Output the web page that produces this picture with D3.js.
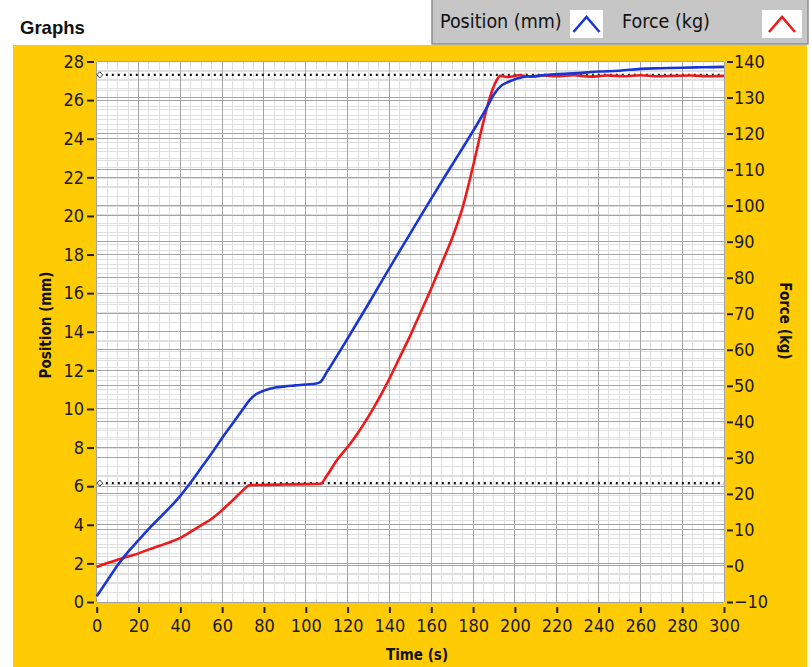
<!DOCTYPE html>
<html><head><meta charset="utf-8">
<script src="https://cdn.jsdelivr.net/npm/d3@7"></script>
<style>body{margin:0;background:#fff;overflow:hidden}</style>
</head><body>
<script>
// ---- data ----
const timeTicks = [0,20,40,60,80,100,120,140,160,180,200,220,240,260,280,300];
const positionTicks = [0,2,4,6,8,10,12,14,16,18,20,22,24,26,28];
const forceTicks = [-10,0,10,20,30,40,50,60,70,80,90,100,110,120,130,140];

const positionTime =   [0,  5,  10, 15, 20, 25, 30, 35, 40,  45, 50,  55, 60, 65,  70,  73,   76,  80,   86,   90,   95,  100,  105, 107,  110, 120,  130,  140, 150,  160, 170,  180, 186, 190, 193, 197,  204, 210,  220, 230, 240,  250, 260, 270,  280,  290, 300];
const positionValues = [0.3,1.1,1.9,2.6,3.2,3.8,4.35,4.9,5.5,6.2,6.95,7.7,8.5,9.25,10.0,10.45,10.75,10.95,11.12,11.17,11.22,11.27,11.32,11.4,11.9,13.65,15.45,17.3,19.1,20.9,22.65,24.4,25.5,26.3,26.7,26.95,27.2,27.25,27.35,27.4,27.48,27.52,27.62,27.65,27.68,27.7,27.72];

const forceTime =   [0,   5,  10, 15, 20, 25, 30, 35, 40, 45, 50,  55,  60,  65,  70,  73,  80,  90,  100, 107, 110, 115, 120, 125, 130, 135, 140, 145, 150, 155, 160, 165, 170, 175,  180, 184, 188, 191,  193,  197,  202,  208,  214,  220,  228,  236,  244,  252,  260,  268,  276,  284,  292,  300];
const forceValues = [-0.3,0.8,1.7,2.6,3.5,4.6,5.6,6.6,7.8,9.5,11.3,13.1,15.5,18.2,21.0,22.4,22.5,22.6,22.7,22.8,25.0,29.5,33.0,37.0,41.5,46.5,52.0,58.0,64.0,70.5,77.0,84.0,91.0,99.5,111.0,121.0,130.0,134.5,136.0,135.7,136.2,135.8,136.1,135.9,136.2,135.8,136.1,135.9,136.2,135.9,136.0,136.1,135.9,136.0];

const limitForces = [136.3, 23.0];

const legendLabels = ["Position (mm)", "Force (kg)"];
const seriesColors = ["#1a35d6", "#f01818"];

// ---- layout ----
const W = 812, H = 667;
const narrow = "'Liberation Sans Narrow','DejaVu Sans Condensed',sans-serif";
const svg = d3.select("body").append("svg").attr("width", W).attr("height", H)
  .style("font-family", narrow);

const x = d3.scaleLinear().domain([0,300]).range([96.7,724]);
const yPos = d3.scaleLinear().domain([0,28]).range([602,61.5]);
const yF = d3.scaleLinear().domain([-10,140]).range([602,61.5]);

// yellow panel
svg.append("rect").attr("x",13).attr("y",45).attr("width",794).attr("height",630).attr("fill","#ffcb05");

// title
svg.append("text").attr("x",20).attr("y",34).text("Graphs")
  .attr("font-family","'Liberation Sans',Arial,sans-serif").attr("font-weight","bold").attr("font-size",18.5).attr("fill","#111");

// legend box
const lg = svg.append("g");
lg.append("rect").attr("x",432).attr("y",-2).attr("width",376).attr("height",46).attr("fill","#c6c6c6").attr("stroke","#8e8e8e").attr("stroke-width",1.5);
const legendX = [[440,570],[622,762]];
legendLabels.forEach((l,i)=>{
  lg.append("text").attr("x",legendX[i][0]).attr("y",28).text(l).attr("font-size",19.5).attr("fill","#111");
  const bx = legendX[i][1];
  lg.append("rect").attr("x",bx).attr("y",10).attr("width",i===0?33:40).attr("height",28).attr("fill","#fff");
  const cx = bx + (i===0?16.5:20);
  lg.append("path").attr("d",`M${cx-13},${32}L${cx},${17}L${cx+13},${32}`).attr("fill","none").attr("stroke",seriesColors[i]).attr("stroke-width",2.5);
});

// plot background
svg.append("rect").attr("x",x(0)).attr("y",yPos(28)).attr("width",x(300)-x(0)).attr("height",yPos(0)-yPos(28)).attr("fill","#fff");

const grid = svg.append("g").attr("shape-rendering","crispEdges");
const minorCol = "#dfdfdf", majorCol = "#a4a4a4";
d3.range(0,301,5).filter(t=>!timeTicks.includes(t)).forEach(t=>{
  grid.append("line").attr("x1",x(t)).attr("x2",x(t)).attr("y1",yPos(28)).attr("y2",yPos(0)).attr("stroke",minorCol);
});
d3.range(0,28.01,0.5).filter(v=>v%2!==0).forEach(v=>{
  grid.append("line").attr("x1",x(0)).attr("x2",x(300)).attr("y1",yPos(v)).attr("y2",yPos(v)).attr("stroke",minorCol);
});
d3.range(-10,140.01,2.5).filter(v=>v%10!==0).forEach(v=>{
  grid.append("line").attr("x1",x(0)).attr("x2",x(300)).attr("y1",yF(v)).attr("y2",yF(v)).attr("stroke",minorCol);
});
timeTicks.forEach(t=>grid.append("line").attr("x1",x(t)).attr("x2",x(t)).attr("y1",yPos(28)).attr("y2",yPos(0)).attr("stroke",majorCol));
positionTicks.forEach(v=>grid.append("line").attr("x1",x(0)).attr("x2",x(300)).attr("y1",yPos(v)).attr("y2",yPos(v)).attr("stroke",majorCol));
forceTicks.forEach(v=>grid.append("line").attr("x1",x(0)).attr("x2",x(300)).attr("y1",yF(v)).attr("y2",yF(v)).attr("stroke",majorCol));

// limit lines
limitForces.forEach(f=>{
  svg.append("line").attr("x1",x(1.5)).attr("x2",x(300)).attr("y1",yF(f)).attr("y2",yF(f))
    .attr("stroke","#111").attr("stroke-width",2.2).attr("stroke-dasharray","2,4");
  const cx = x(1.5), cy = yF(f);
  svg.append("path").attr("d",`M${cx-3},${cy}L${cx},${cy-3}L${cx+3},${cy}L${cx},${cy+3}Z`).attr("fill","#fff").attr("stroke","#333").attr("stroke-width",1);
});

// series
const posLine = d3.line().x((d,i)=>x(positionTime[i])).y(d=>yPos(d)).curve(d3.curveMonotoneX);
const fLine = d3.line().x((d,i)=>x(forceTime[i])).y(d=>yF(d)).curve(d3.curveMonotoneX);
svg.append("path").attr("d",fLine(forceValues)).attr("fill","none").attr("stroke",seriesColors[1]).attr("stroke-width",2.6);
svg.append("path").attr("d",posLine(positionValues)).attr("fill","none").attr("stroke",seriesColors[0]).attr("stroke-width",2.6);

// axes
const tickFont = 18;
const ax1 = svg.append("g").attr("transform","translate(94,0)").call(d3.axisLeft(yPos).tickValues(positionTicks).tickSize(7).tickPadding(3));
const ax2 = svg.append("g").attr("transform","translate(727,0)").call(d3.axisRight(yF).tickValues(forceTicks).tickSize(6).tickPadding(1));
const ax3 = svg.append("g").attr("transform","translate(0,607)").call(d3.axisBottom(x).tickValues(timeTicks).tickSize(6).tickPadding(6));
[ax1,ax2,ax3].forEach(a=>{
  a.select(".domain").remove();
  a.selectAll("line").attr("stroke","#222").attr("stroke-width",2);
  a.selectAll("text").attr("font-size",tickFont).attr("fill","#1a1a1a").attr("font-family",narrow);
});

// axis titles
svg.append("text").attr("transform","translate(51,325) rotate(-90)").attr("text-anchor","middle")
  .attr("font-weight","bold").attr("font-size",15).attr("fill","#111").text("Position (mm)");
svg.append("text").attr("transform","translate(780,321) rotate(90)").attr("text-anchor","middle")
  .attr("font-weight","bold").attr("font-size",15).attr("fill","#111").text("Force (kg)");
svg.append("text").attr("x",417).attr("y",660).attr("text-anchor","middle")
  .attr("font-weight","bold").attr("font-size",15).attr("fill","#111").text("Time (s)");
</script>
</body></html>
